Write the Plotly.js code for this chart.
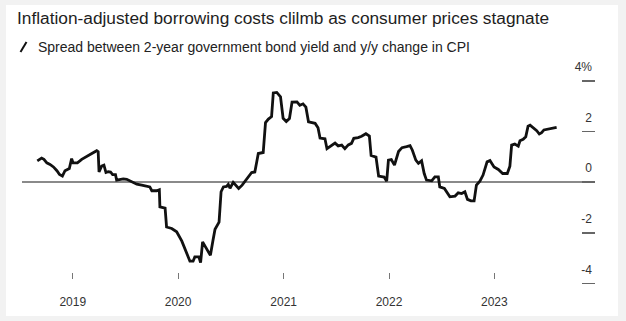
<!DOCTYPE html>
<html>
<head>
<meta charset="utf-8">
<script src="https://cdn.plot.ly/plotly-3.0.1.min.js"></script>
<style>html,body{margin:0;padding:0;background:#f2f2f2;}#chart{width:626px;height:321px;}</style>
</head>
<body>
<div id="chart"></div>
<script>
// ---- data ----
const dates = [
'2018-08-31','2018-09-15','2018-09-23','2018-10-03','2018-10-14','2018-10-26','2018-11-07','2018-11-16','2018-11-26','2018-12-05','2018-12-20','2018-12-28',
'2019-01-02','2019-01-17','2019-02-01','2019-02-18','2019-03-08','2019-03-25','2019-03-30','2019-04-02','2019-04-11','2019-04-19','2019-04-26','2019-05-04','2019-05-12','2019-05-19','2019-05-29','2019-06-02','2019-06-13','2019-06-25','2019-07-07','2019-07-24','2019-08-11','2019-08-28','2019-09-14','2019-09-25','2019-10-02','2019-10-19','2019-10-28','2019-10-30','2019-11-17','2019-11-22','2019-12-10','2019-12-27',
'2020-01-14','2020-01-30','2020-02-11','2020-02-22','2020-02-28','2020-03-13','2020-03-19','2020-03-26','2020-04-08','2020-04-22','2020-05-01','2020-05-08','2020-05-22','2020-05-29','2020-06-06','2020-06-17','2020-06-23','2020-06-29','2020-07-10','2020-07-19','2020-07-29','2020-08-10','2020-08-20','2020-08-31','2020-09-12','2020-09-23','2020-10-05','2020-10-22','2020-10-30','2020-11-09','2020-11-20','2020-11-26','2020-12-08','2020-12-21','2020-12-30',
'2021-01-10','2021-01-21','2021-01-30','2021-02-16','2021-02-26','2021-03-09','2021-03-19','2021-03-28','2021-04-20','2021-04-30','2021-05-07','2021-05-24','2021-05-31','2021-06-12','2021-06-28','2021-07-09','2021-07-21','2021-08-01','2021-08-13','2021-08-24','2021-09-01','2021-09-16','2021-09-28','2021-10-13','2021-10-25','2021-10-31','2021-11-17','2021-11-26','2021-12-15','2021-12-24','2021-12-30',
'2022-01-09','2022-01-20','2022-02-03','2022-02-15','2022-03-03','2022-03-15','2022-03-23','2022-04-04','2022-04-13','2022-04-24','2022-05-03','2022-05-11','2022-05-29','2022-06-09','2022-06-21','2022-06-26','2022-07-12','2022-07-20','2022-07-31','2022-08-18','2022-08-29','2022-09-10','2022-09-21','2022-09-30','2022-10-12','2022-10-23','2022-10-31','2022-11-12','2022-11-23','2022-12-07','2022-12-17','2022-12-31',
'2023-01-15','2023-01-30','2023-02-15','2023-02-24','2023-03-02','2023-03-13','2023-03-25','2023-03-31','2023-04-11','2023-04-20','2023-04-28','2023-05-05','2023-05-16','2023-05-28','2023-06-06','2023-06-14','2023-06-22','2023-07-01','2023-07-13','2023-07-24','2023-08-05'
];
const spread = [
0.84,0.95,0.90,0.76,0.70,0.60,0.45,0.30,0.24,0.45,0.54,0.93,
0.76,0.76,0.90,1.00,1.13,1.24,1.20,0.40,0.63,0.67,0.38,0.41,0.40,0.30,0.30,0.08,0.10,0.13,0.11,0.01,-0.08,-0.12,-0.16,-0.19,-0.34,-0.34,-0.30,-0.98,-1.03,-1.77,-1.83,-1.96,
-2.33,-2.77,-3.12,-3.12,-2.95,-2.95,-3.18,-2.36,-2.59,-2.89,-2.29,-1.86,-1.58,-0.38,-0.19,-0.17,-0.09,-0.24,-0.01,-0.12,-0.25,-0.12,0.04,0.20,0.38,0.40,1.13,1.17,2.35,2.49,2.59,3.52,3.54,3.37,2.52,
2.39,2.51,3.16,3.17,3.03,3.09,2.96,2.38,2.32,2.15,1.74,1.71,1.32,1.40,1.54,1.43,1.46,1.32,1.47,1.53,1.73,1.76,1.81,1.91,1.82,1.05,0.99,0.24,0.20,0.04,0.87,
0.89,0.67,1.21,1.36,1.40,1.44,1.26,0.87,0.74,0.84,0.34,0.08,0.05,0.21,0.21,-0.19,-0.25,-0.38,-0.58,-0.55,-0.42,-0.45,-0.38,-0.68,-0.74,-0.74,-0.12,0.04,0.28,0.80,0.85,0.60,
0.50,0.34,0.34,0.63,1.46,1.50,1.42,1.63,1.69,1.79,2.21,2.25,2.16,2.03,1.90,1.95,2.06,2.08,2.12,2.12,2.16
];
const xTickVals = ['2019-01-01','2020-01-01','2021-01-01','2022-01-01','2023-01-01'];
const xTickText = ['2019','2020','2021','2022','2023'];
const yTickVals = [-4, -2, 0, 2, 4];
const yTickText = ['-4', '-2', '0', '2', '4%'];
const titleText = 'Inflation-adjusted borrowing costs clilmb as consumer prices stagnate';
const subtitleText = 'Spread between 2-year government bond yield and y/y change in CPI';

// ---- layout geometry helpers ----
const W = 626, H = 321;
const M = {l: 22, r: 31, t: 58, b: 35};
const PW = W - M.l - M.r, PH = H - M.t - M.b;
const px2x = X => (X - M.l) / PW;
const px2y = Y => (H - M.b - Y) / PH;

const FONT = 'Liberation Sans, Arial, sans-serif';

const trace = {
  x: dates, y: spread, type: 'scatter', mode: 'lines',
  line: {color: '#111111', width: 2.8, shape: 'linear'},
  hoverinfo: 'skip', showlegend: false
};

const layout = {
  width: W, height: H,
  margin: M,
  paper_bgcolor: '#f2f2f2',
  plot_bgcolor: 'rgba(0,0,0,0)',
  font: {family: FONT, color: '#333333', size: 12},
  title: {
    text: titleText,
    font: {family: FONT, size: 17.3, color: '#1e1e1e'},
    xref: 'container', x: 17 / W, xanchor: 'left',
    yref: 'container', y: 1 - 18 / H, yanchor: 'middle'
  },
  xaxis: {
    type: 'date',
    range: ['2018-07-09', '2023-12-16'],
    anchor: 'free', position: px2y(272),
    showgrid: false, zeroline: false, showline: false,
    ticks: 'outside', ticklen: 6, tickwidth: 1, tickcolor: '#777777',
    tickmode: 'array', tickvals: xTickVals, ticktext: xTickText,
    ticklabelstandoff: 13,
    tickfont: {family: FONT, size: 12, color: '#333333'},
    automargin: false, fixedrange: true
  },
  yaxis: {
    side: 'right',
    range: [-4.1, 4.9],
    showgrid: false, showline: false,
    zeroline: true, zerolinecolor: '#8a8a8a', zerolinewidth: 1.3,
    ticks: 'inside', ticklen: 13, tickwidth: 1.5, tickcolor: '#666666',
    tickmode: 'array', tickvals: yTickVals, ticktext: yTickText,
    ticklabelposition: 'inside top',
    ticklabelshift: -5,
    tickfont: {family: FONT, size: 12, color: '#333333'},
    automargin: false, fixedrange: true
  },
  shapes: [
    {type: 'rect', xref: 'paper', yref: 'paper', layer: 'below',
     x0: px2x(6), x1: px2x(618), y0: px2y(316), y1: px2y(5),
     fillcolor: '#ffffff', line: {width: 0}},
    {type: 'line', xref: 'paper', yref: 'paper',
     x0: px2x(20.5), x1: px2x(26.5), y0: px2y(52), y1: px2y(42),
     line: {color: '#111111', width: 2}}
  ],
  annotations: [
    {text: subtitleText, xref: 'paper', yref: 'paper',
     x: px2x(36), y: px2y(47), xanchor: 'left', yanchor: 'middle',
     showarrow: false, font: {family: FONT, size: 14, color: '#222222'}}
  ]
};

Plotly.newPlot('chart', [trace], layout, {displayModeBar: false, staticPlot: true});
</script>
</body>
</html>
